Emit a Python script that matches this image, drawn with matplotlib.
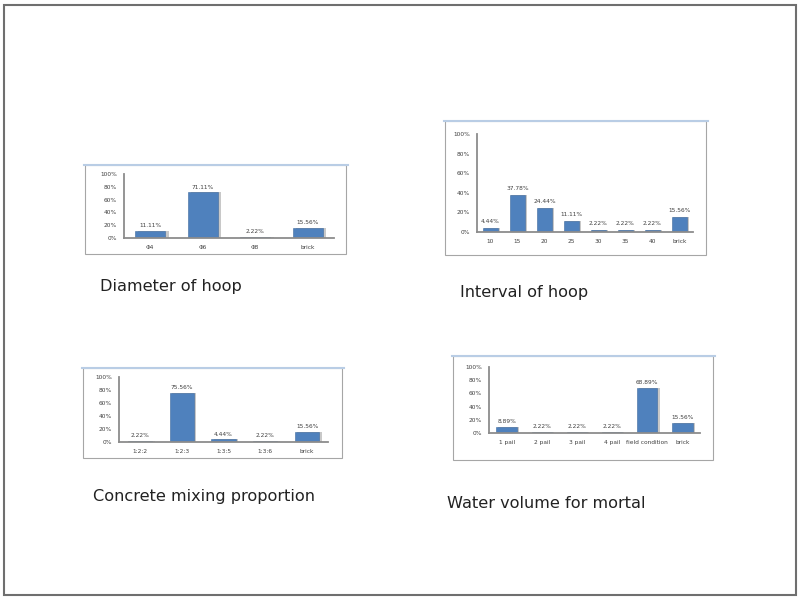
import matplotlib
matplotlib.use("Agg")
import matplotlib.pyplot as plt
from matplotlib.patches import Rectangle
from matplotlib.lines import Line2D
from matplotlib.ticker import PercentFormatter

W, H = 798, 597

# Survey results (percent of respondents)
hoop_diameter_cats = ["Φ4", "Φ6", "Φ8", "brick"]
hoop_diameter_vals = [11.11, 71.11, 2.22, 15.56]

hoop_interval_cats = ["10", "15", "20", "25", "30", "35", "40", "brick"]
hoop_interval_vals = [4.44, 37.78, 24.44, 11.11, 2.22, 2.22, 2.22, 15.56]

mix_cats = ["1:2:2", "1:2:3", "1:3:5", "1:3:6", "brick"]
mix_vals = [2.22, 75.56, 4.44, 2.22, 15.56]

water_cats = ["1 pail", "2 pail", "3 pail", "4 pail", "field condition", "brick"]
water_vals = [8.89, 2.22, 2.22, 2.22, 68.89, 15.56]

captions = ["Diameter of hoop", "Interval of hoop",
            "Concrete mixing proportion", "Water volume for mortal"]

BAR = "#4F81BD"
BAR_EDGE = "#3E6A9E"

fig = plt.figure(figsize=(W / 100, H / 100), dpi=100)
fig.patch.set_facecolor("white")


def fx(x):
    return x / W


def fy(y):
    return 1 - y / H


# slide frame
fig.add_artist(Rectangle((fx(4), fy(595)), fx(792), 590 / H, transform=fig.transFigure,
                         fill=False, edgecolor="#6f6f6f", linewidth=1.5))


def panel(box, plot, cats, vals, caption, cap_xy):
    bx0, by0, bx1, by1 = box
    # chart frame
    fig.add_artist(Rectangle((fx(bx0), fy(by1)), fx(bx1 - bx0), (by1 - by0) / H,
                             transform=fig.transFigure, fill=False,
                             edgecolor="#a6a6a6", linewidth=0.8))
    fig.add_artist(Line2D([fx(bx0 - 1), fx(bx1 + 2)], [fy(by0), fy(by0)],
                          transform=fig.transFigure, color="#b9cde5", linewidth=1.5))
    px0, ptop, px1, pbot = plot
    ax = fig.add_axes([fx(px0), fy(pbot), fx(px1 - px0), (pbot - ptop) / H])
    ax.set_facecolor("none")
    x = range(len(cats))
    # soft drop shadow behind bars
    ax.bar([i + 0.06 for i in x], vals, width=0.58, color="#c8c8c8", zorder=1)
    ax.bar(x, vals, width=0.58, color=BAR, edgecolor=BAR_EDGE, linewidth=0.4, zorder=2)
    ax.set_xlim(-0.5, len(cats) - 0.5)
    ax.set_ylim(0, 100)
    ax.set_yticks([0, 20, 40, 60, 80, 100])
    ax.yaxis.set_major_formatter(PercentFormatter(decimals=0))
    ax.set_xticks(list(x))
    ax.set_xticklabels(cats)
    ax.tick_params(axis="both", length=0, labelsize=4.2, colors="#404040", pad=5)
    for s in ("top", "right"):
        ax.spines[s].set_visible(False)
    for s in ("left", "bottom"):
        ax.spines[s].set_color("#8c8c8c")
        ax.spines[s].set_linewidth(1.3)
    for i, v in zip(x, vals):
        ax.text(i, v + 4, f"{v:.2f}%", ha="center", va="bottom", fontsize=4.2, color="#404040")
    fig.text(fx(cap_xy[0]), fy(cap_xy[1]), caption, fontsize=11.6, color="#222222",
             ha="left", va="center")


panel((85, 165, 346, 254), (124, 174, 334, 238), hoop_diameter_cats, hoop_diameter_vals,
      captions[0], (100, 287))
panel((445, 121, 706, 255), (477, 134, 693, 232), hoop_interval_cats, hoop_interval_vals,
      captions[1], (460, 293))
panel((83, 368, 342, 458), (119, 377, 328, 442), mix_cats, mix_vals,
      captions[2], (93, 497))
panel((453, 356, 713, 460), (489, 367, 700, 433), water_cats, water_vals,
      captions[3], (447, 503))

fig.savefig("out.png", dpi=100, facecolor="white")
